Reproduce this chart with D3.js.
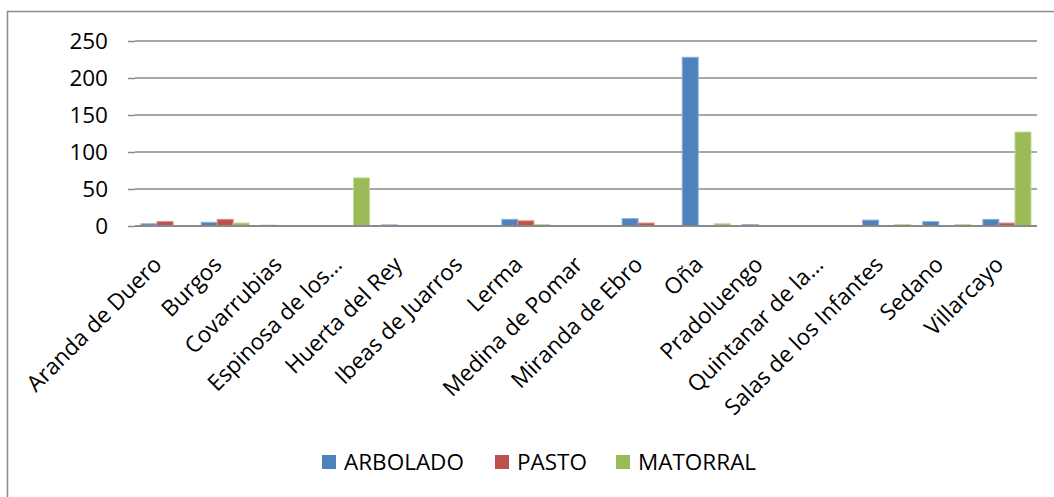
<!DOCTYPE html>
<html><head><meta charset="utf-8">
<script src="https://cdn.jsdelivr.net/npm/d3@7"></script>
<style>body{margin:0;background:#fff;} svg{display:block;}</style>
</head><body>
<svg id="c" width="1054" height="497"></svg>
<script>
const categories = ["Aranda de Duero","Burgos","Covarrubias","Espinosa de los…","Huerta del Rey","Ibeas de Juarros","Lerma","Medina de Pomar","Miranda de Ebro","Oña","Pradoluengo","Quintanar de la…","Salas de los Infantes","Sedano","Villarcayo"];
const seriesNames = ["ARBOLADO","PASTO","MATORRAL"];
const arbolado = [3,5,1,0,1.5,0,9,0,10,228,2,0,8,6,9];
const pasto    = [6,9,0,0,0,0.5,7,0,4,0,0,0,0,0,4];
const matorral = [0.5,4,0.5,65,0,0,2,0,0,3,0,0,2,2,127];
const yTicks = [0,50,100,150,200,250];
const colors = ["#4F81BD","#C0504D","#9BBB59"];
const strokes = ["#8fb1dc","#dc8f8d","#c3d99a"];

const svg = d3.select("#c");
const font = "'Open Sans', 'Liberation Sans', sans-serif";
// outer frame
svg.append("rect").attr("x",7.5).attr("y",11.5).attr("width",1100).attr("height",600)
  .attr("fill","none").attr("stroke","#8c8c8c").attr("stroke-width",1.5);

const mLeft=135, mRight=1037, mTop=41, mBottom=226;
const x = d3.scaleBand().domain(categories).range([mLeft,mRight]).paddingInner(0.2).paddingOuter(0.1);
const x0 = d3.scaleBand().domain(categories).range([mLeft,mRight]);
const xs = d3.scaleBand().domain(seriesNames).range([0,x.bandwidth()]);
const y = d3.scaleLinear().domain([0,250]).range([mBottom,mTop]);

// gridlines
svg.append("g").selectAll("line").data(yTicks.filter(d=>d>0)).join("line")
  .attr("x1",mLeft).attr("x2",mRight).attr("y1",d=>y(d)).attr("y2",d=>y(d))
  .attr("stroke","#8a8a8a").attr("stroke-width",1.5);

// y axis
const yAxis = d3.axisLeft(y).tickValues(yTicks).tickSize(7).tickPadding(20);
const gy = svg.append("g").attr("transform",`translate(${mLeft},0)`).call(yAxis);
gy.select(".domain").remove();
gy.selectAll(".tick line").attr("stroke","#8a8a8a").attr("stroke-width",1.5);
gy.selectAll("text").attr("font-family",font).attr("font-size",22.5).attr("fill","#000");

// bars
const data = [arbolado,pasto,matorral];
const groups = svg.append("g").selectAll("g").data(data).join("g")
  .attr("fill",(d,i)=>colors[i]).attr("stroke",(d,i)=>strokes[i]);
groups.each(function(vals,si){
  d3.select(this).selectAll("rect").data(vals.map((v,ci)=>({v,c:categories[ci]}))).join("rect")
    .attr("x",d=>x(d.c)+xs(seriesNames[si]))
    .attr("width",xs.bandwidth())
    .attr("y",d=>y(d.v))
    .attr("height",d=>y(0)-y(d.v))
    .attr("stroke-width",d=>d.v>0?1:0);
});

// x axis baseline
const xAxis = d3.axisBottom(x0).tickSize(0).tickPadding(0);
const gx = svg.append("g").attr("transform",`translate(0,${mBottom})`).call(xAxis);
gx.select(".domain").attr("stroke","#8a8a8a").attr("stroke-width",2).attr("d",`M${mLeft},0H${mRight}`);
gx.selectAll("text").attr("font-family",font).attr("font-size",22.5).attr("fill","#000")
  .attr("text-anchor","end").attr("dy",0)
  .attr("transform","translate(-2,40) rotate(-45)");

// legend
const legendX = [322,495,616];
const lg = svg.append("g").selectAll("g").data(seriesNames).join("g")
  .attr("transform",(d,i)=>`translate(${legendX[i]},455)`);
lg.append("rect").attr("width",14).attr("height",14).attr("fill",(d,i)=>colors[i]);
lg.append("text").attr("x",22).attr("y",15).text(d=>d)
  .attr("font-family",font).attr("font-size",22.5).attr("fill","#000");
</script>
</body></html>
